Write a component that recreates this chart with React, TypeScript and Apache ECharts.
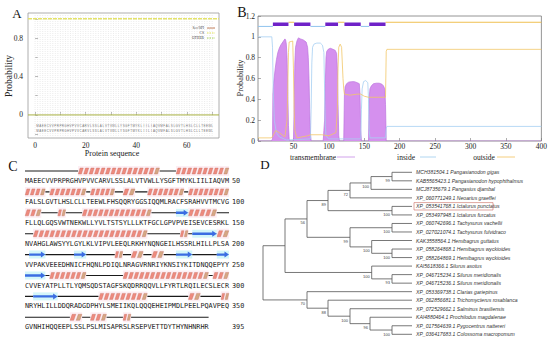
import { useEffect, useRef } from 'react';
import * as echarts from 'echarts';

const SERIF = '"Liberation Serif", "DejaVu Serif", serif';
const MONO = '"DejaVu Sans Mono", monospace';
const SANS = '"Liberation Sans", Arial, sans-serif';

// ---------------- Panel A (signal peptide) ----------------
const aXTicks = [0, 10, 20, 30, 40, 50, 60, 70];
const aXLabels = [0, 20, 40, 60];
const aYTicks = [-0.2, 0, 0.2, 0.4, 0.6, 0.8, 1.0];
const aYLabels = [0, 0.4, 0.8];
const aOther: [number, number][] = [[-2.8, 1.0], [72.7, 1.0]];
const aSecSpi: [number, number][] = [[-2.8, 0.0], [72.7, 0.0]];
const aRowLevels = [-0.114, -0.166];

// ---------------- Panel B (transmembrane topology) ----------------
const bTm: [number, number][] = [
  [0, 0], [19, 0], [20.5, 0.02], [21, 0.45], [22, 0.55], [24, 0.68], [26, 0.78], [28, 0.85], [30, 0.89], [32, 0.92],
  [34, 0.94], [36, 0.96], [38, 0.98], [39, 0.97], [40, 0.93], [41, 0.8], [42, 0.5], [43, 0.15], [44, 0.02], [45, 0],
  [50, 0], [51, 0.3], [52, 0.75], [53, 0.9], [55, 0.96], [57, 0.99], [60, 0.98], [64, 0.97], [68, 0.95], [70, 0.9],
  [71, 0.8], [72, 0.6], [73, 0.3], [74, 0.08], [75, 0],
  [92, 0], [93, 0.1], [94, 0.2], [95, 0.55], [96, 0.8], [97, 0.86], [99, 0.88], [102, 0.89], [106, 0.88], [109, 0.87],
  [111, 0.84], [112, 0.7], [113, 0.35], [114, 0.05], [115, 0],
  [121, 0], [122, 0.45], [123, 0.52], [125, 0.55], [128, 0.565], [132, 0.57], [136, 0.57], [140, 0.56], [143, 0.55],
  [144, 0.45], [145, 0.1], [146, 0],
  [156, 0], [157, 0.42], [158, 0.5], [160, 0.53], [163, 0.55], [167, 0.555], [171, 0.555], [175, 0.545], [177, 0.53],
  [179, 0.5], [180, 0.35], [181, 0], [400, 0],
];
const bInside: [number, number][] = [
  [0, 1], [19.5, 1], [20.5, 0.9], [21.5, 0.5], [23, 0.2], [26, 0.08], [30, 0.04], [40, 0.01], [74, 0.02], [75, 0.3],
  [76, 0.75], [77, 0.9], [79, 0.93], [83, 0.94], [88, 0.94], [91, 0.92], [93, 0.85], [94, 0.5], [95, 0.15], [96, 0.05],
  [100, 0.02], [145, 0.02], [146, 0.3], [147, 0.5], [149, 0.57], [152, 0.58], [155, 0.56], [156, 0.4], [157, 0.1],
  [158, 0.03], [180, 0.03], [181, 0.12], [182, 0.14], [400, 0.14],
];
const bOutside: [number, number][] = [
  [0, 0.03], [19, 0.03], [21, 0.05], [25, 0.1], [30, 0.08], [38, 0.04], [41, 0.2], [42, 0.5], [43, 0.85], [44, 0.95],
  [49, 0.96], [50, 0.7], [51, 0.3], [52, 0.1], [55, 0.03], [70, 0.05], [74, 0.06], [90, 0.06], [100, 0.05], [110, 0.08],
  [112, 0.3], [113, 0.7], [114, 0.9], [116, 0.93], [118, 0.9], [120, 0.6], [121, 0.5], [122, 0.45], [130, 0.44],
  [140, 0.45], [145, 0.45], [150, 0.43], [156, 0.42], [170, 0.42], [180, 0.42], [181, 0.86], [182, 0.88], [400, 0.88],
];
const bTmSegments: [number, number][] = [[21, 43], [51, 74], [95, 113], [122, 145], [157, 180]];
const bInsideSegments: [number, number][] = [[0, 21], [74, 95], [145, 157]];
const bOutsideSegments: [number, number][] = [[43, 51], [113, 122], [180, 400]];
const bTopLevels = { tm: 1.12, inside: 1.1, outside: 1.14 };

// ---------------- Panel C (sequence + secondary structure) ----------------
const seqLines = [
  'MAEECVVPRPRGHVPVVCARVLSSLALVTVWLLYSGFTMYKLIILIAQVM',
  'FALSLGVTLHSLCLLTEEWLFHSQQRYGGSIQQMLRACFSRAHVVTMCVG',
  'FLLQLGQSVWTNEKWLLYVLTSTSYLLLKTFGCLGPVPVEISEVCESRKL',
  'NVAHGLAWSYYLGYLKLVIPVLEEQLRKHYNQNGEILHSSRLHILLPLSA',
  'VVPAKVEEEDHNICFHQNLPDIQLNRAGVRNRIYKNSIYKITDNQQEPYY',
  'CVVEYATPLLTLYQMSQDSTAGFSKQDRRQQVLLFYRTLRQILECSLECR',
  'NRYHLILLDDQRADGDPHYLSMEIIKQLQQQEHEIPMDLPEELPQAVPEQ',
  'GVNHIHQQEEPLSSLPSLMISAPRSLRSEPVETTDYTHYNHNRHR',
];
const seqEndNumbers = ['50', '100', '150', '200', '250', '300', '350', '395'];
const helices: [number, number][] = [
  [14, 33], [38, 50], [51, 55], [57, 65], [67, 72], [75, 77], [81, 89], [91, 100], [101, 104], [109, 110],
  [115, 131], [141, 147], [153, 180], [189, 190], [198, 200], [223, 224], [227, 229], [232, 234], [257, 265],
  [275, 295], [297, 300], [319, 330], [341, 343], [349, 350], [362, 364], [367, 370], [375, 376],
];
const strands: [number, number][] = [[138, 140], [192, 197], [202, 205], [213, 215], [238, 241], [248, 255], [303, 308]];

// ---------------- Panel D (phylogenetic tree) ----------------
const leafNames = [
  'MCH381504.1 Pangasianodon gigas',
  'KAB5565423.1 Pangasianodon hypophthalmus',
  'MCJ8735679.1 Pangasius djambal',
  'XP_060771249.1 Neoarius graeffei',
  'XP_053541768.1 Ictalurus punctatus',
  'XP_053497948.1 Ictalurus furcatus',
  'XP_060742696.1 Tachysurus vachellii',
  'XP_027021074.1 Tachysurus fulvidraco',
  'KAK3558564.1 Hemibagrus guttatus',
  'XP_058264868.1 Hemibagrus wyckioides',
  'XP_058264869.1 Hemibagrus wyckioides',
  'KAI5618366.1 Silurus asotus',
  'XP_046715234.1 Silurus meridionalis',
  'XP_046715236.1 Silurus meridionalis',
  'XP_053369738.1 Clarias gariepinus',
  'XP_062856681.1 Trichomycterus rosablanca',
  'XP_072529662.1 Salminus brasiliensis',
  'KAI4880464.1 Prochilodus magdalenae',
  'XP_017564639.1 Pygocentrus nattereri',
  'XP_036417683.1 Colossoma macropomum',
];
const leafParent = ['A111', 'A111', 'A11', 'A1', 'A2', 'A2', 'B1', 'B1', 'B2', 'B21', 'B21', 'U2', 'U21', 'U21', 'L', 'L1', 'L11', 'L111', 'L1111', 'L1111'];
const highlightedLeaf = 4;
const nodeIds = ['root', 'U', 'U1', 'A', 'A1', 'A11', 'A111', 'A2', 'B', 'B1', 'B2', 'B21', 'U2', 'U21', 'L', 'L1', 'L11', 'L111', 'L1111'];
const nodeParent = [null, 'root', 'U', 'U1', 'A', 'A1', 'A11', 'A', 'U1', 'B', 'B', 'B2', 'U', 'U2', 'root', 'L', 'L1', 'L11', 'L111'];
const nodeDepth = [0, 22, 44, 65, 87, 108, 129, 129, 87, 129, 108.7, 129, 108.7, 129, 44, 65, 87, 107, 129];
const nodeSupport = [null, null, 56, 89, 72, 100, 99, 100, 99, 100, 100, 100, 100, 93, 70, 88, 100, 96, 100];
const leafDepth = 149;

function buildTree() {
  const y: Record<string, number> = {};
  const depth: Record<string, number> = {};
  nodeIds.forEach((id, i) => (depth[id] = nodeDepth[i]));
  const spans: Record<string, [number, number]> = {};
  const walk = (id: string) => {
    const childY: number[] = [];
    leafParent.forEach((p, i) => p === id && childY.push(i));
    nodeIds.forEach((n, i) => {
      if (nodeParent[i] === id) {
        walk(n);
        childY.push(y[n]);
      }
    });
    const lo = Math.min(...childY);
    const hi = Math.max(...childY);
    y[id] = (lo + hi) / 2;
    spans[id] = [lo, hi];
  };
  walk('root');
  const segs: number[][] = [];
  nodeIds.forEach((id, i) => {
    const [lo, hi] = spans[id];
    segs.push([depth[id], lo, depth[id], hi]);
    const p = nodeParent[i];
    if (p) segs.push([depth[p], y[id], depth[id], y[id]]);
  });
  leafParent.forEach((p, i) => segs.push([depth[p], i, leafDepth, i]));
  const supports: { x: number; y: number; v: number }[] = [];
  nodeIds.forEach((id, i) => {
    const v = nodeSupport[i];
    if (v != null) supports.push({ x: depth[id], y: y[id], v });
  });
  return { segs, supports };
}

function breakSegments(segs: [number, number][], level: number) {
  const out: any[] = [];
  segs.forEach(([s, e]) => {
    out.push([s, level], [e, level], [e, '-']);
  });
  return out;
}

function buildOption() {
  const tree = buildTree();
  const aSeq = seqLines.join('').slice(0, 70);
  const aLetters: number[][] = [];
  aRowLevels.forEach((lv) => {
    for (let i = 0; i < aSeq.length; i++) aLetters.push([i + 1, lv]);
  });
  const aGridPositions = aSeq.split('').map((_, i) => i);
  aGridPositions.push(aSeq.length);

  const cLetters: { x: number; row: number; ch: string }[] = [];
  seqLines.forEach((line, r) => line.split('').forEach((ch, i) => cLetters.push({ x: i + 1, row: r, ch })));

  const cElements: { row: number; s: number; e: number; t: string }[] = [];
  const addEl = (list: [number, number][], t: string) =>
    list.forEach(([s, e]) => {
      let cur = s;
      while (cur <= e) {
        const row = Math.floor((cur - 1) / 50);
        const rowEnd = Math.min(e, (row + 1) * 50);
        cElements.push({ row, s: cur - row * 50, e: rowEnd - row * 50, t });
        cur = rowEnd + 1;
      }
    });
  addEl(helices, 'H');
  addEl(strands, 'E');

  const axisLabelStyle = { fontFamily: SERIF, fontSize: 7.5, color: '#222' };

  return {
    animation: false,
    backgroundColor: '#fff',
    grid: [
      { left: 28, top: 13, width: 191, height: 125, show: true, borderColor: '#9a9a9a', borderWidth: 0.8 },
      { left: 258, top: 16, width: 284, height: 125, show: true, borderColor: '#7a7a7a', borderWidth: 0.8 },
      { left: 25, top: 181, width: 204, height: 146.3 },
      { left: 263, top: 172.3, width: 149, height: 162 },
    ],
    xAxis: [
      {
        gridIndex: 0, type: 'value', min: -2.8, max: 72.7,
        axisLine: { show: false },
        axisTick: { show: true, inside: true, length: 3, customValues: aXTicks, lineStyle: { color: '#888', width: 0.6 } },
        axisLabel: { customValues: aXLabels, margin: 3, ...axisLabelStyle },
        splitLine: { show: false },
      },
      {
        gridIndex: 1, type: 'value', min: 0, max: 400, interval: 50,
        axisLine: { show: false },
        axisTick: { show: true, inside: true, length: 3, lineStyle: { color: '#777', width: 0.6 } },
        axisLabel: { margin: 1.5, formatter: (v: number) => (v === 0 ? '' : String(v)), ...axisLabelStyle },
        splitLine: { show: false },
      },
      { gridIndex: 2, type: 'value', min: 0.5, max: 50.5, show: false },
      { gridIndex: 3, type: 'value', min: 0, max: leafDepth, show: false },
    ],
    yAxis: [
      {
        gridIndex: 0, type: 'value', min: -0.24, max: 1.06,
        axisLine: { show: false },
        axisTick: { show: true, inside: true, length: 3, customValues: aYTicks, lineStyle: { color: '#888', width: 0.6 } },
        axisLabel: { customValues: aYLabels, margin: 5, formatter: (v: number) => String(Math.round(v * 10) / 10), ...axisLabelStyle },
        splitLine: { show: false },
      },
      {
        gridIndex: 1, type: 'value', min: 0, max: 1.2, interval: 0.2,
        axisLine: { show: false },
        axisTick: { show: true, inside: true, length: 3, lineStyle: { color: '#777', width: 0.6 } },
        axisLabel: { margin: 3, formatter: (v: number) => String(Math.round(v * 10) / 10), ...axisLabelStyle },
        splitLine: { show: false },
      },
      { gridIndex: 2, type: 'value', min: 0, max: 7, inverse: true, show: false },
      { gridIndex: 3, type: 'value', min: 0, max: 19, inverse: true, show: false },
    ],
    series: [
      // ---- A ----
      {
        type: 'custom', xAxisIndex: 0, yAxisIndex: 0, silent: true,
        data: aGridPositions.map((p) => [p]),
        renderItem: (params: any, api: any) => {
          const x = api.value(0);
          const p1 = api.coord([x, 1.06]);
          const p2 = api.coord([x, -0.24]);
          return { type: 'line', shape: { x1: p1[0], y1: p1[1], x2: p2[0], y2: p2[1] }, style: { stroke: '#d9d9d9', lineWidth: 0.5, lineDash: [1, 1] } };
        },
      },
      {
        name: 'OTHER', type: 'line', xAxisIndex: 0, yAxisIndex: 0, data: aOther, symbol: 'none',
        lineStyle: { color: '#e4e36a', width: 1.4, type: [4, 1] },
      },
      {
        name: 'Sec/SPI', type: 'line', xAxisIndex: 0, yAxisIndex: 0, data: aSecSpi, symbol: 'none',
        lineStyle: { color: '#a9b142', width: 1 },
      },
      {
        type: 'custom', xAxisIndex: 0, yAxisIndex: 0, silent: true,
        data: aLetters,
        renderItem: (params: any, api: any) => {
          const p = api.coord([api.value(0), api.value(1)]);
          const ch = aSeq[params.dataIndex % aSeq.length];
          return { type: 'text', x: p[0], y: p[1], style: { text: ch, fontSize: 3, fontFamily: SANS, fill: '#777', align: 'center', verticalAlign: 'middle' } };
        },
      },
      // ---- B ----
      {
        name: 'transmembrane', type: 'line', xAxisIndex: 1, yAxisIndex: 1, data: bTm, symbol: 'none',
        lineStyle: { color: '#bb74de', width: 0.7 }, areaStyle: { color: '#d590ee', opacity: 1 },
      },
      {
        name: 'inside', type: 'line', xAxisIndex: 1, yAxisIndex: 1, data: bInside, symbol: 'none',
        lineStyle: { color: '#a6cff2', width: 0.8 },
      },
      {
        name: 'outside', type: 'line', xAxisIndex: 1, yAxisIndex: 1, data: bOutside, symbol: 'none',
        lineStyle: { color: '#f1c667', width: 0.8 },
      },
      {
        type: 'line', xAxisIndex: 1, yAxisIndex: 1, data: breakSegments(bInsideSegments, bTopLevels.inside), symbol: 'none',
        lineStyle: { color: '#8fc3ee', width: 1 },
      },
      {
        type: 'line', xAxisIndex: 1, yAxisIndex: 1, data: breakSegments(bOutsideSegments, bTopLevels.outside), symbol: 'none',
        lineStyle: { color: '#f0c050', width: 1 },
      },
      {
        type: 'line', xAxisIndex: 1, yAxisIndex: 1, data: breakSegments(bTmSegments, bTopLevels.tm), symbol: 'none',
        lineStyle: { color: '#6f22c8', width: 3.5, cap: 'butt' },
      },
      // ---- C ----
      {
        type: 'custom', xAxisIndex: 2, yAxisIndex: 2, silent: true,
        data: seqLines.map((l, r) => [l.length, r]),
        renderItem: (params: any, api: any) => {
          const p1 = api.coord([0.5, api.value(1)]);
          const p2 = api.coord([api.value(0) + 0.5, api.value(1)]);
          return { type: 'line', shape: { x1: p1[0], y1: p1[1] - 10, x2: p2[0], y2: p2[1] - 10 }, style: { stroke: '#1a1a1a', lineWidth: 1.1 } };
        },
      },
      {
        type: 'custom', xAxisIndex: 2, yAxisIndex: 2, silent: true,
        data: cElements.map((e) => [e.s, e.row]),
        renderItem: (params: any, api: any) => {
          const el = cElements[params.dataIndex];
          const p1 = api.coord([el.s - 0.5, el.row]);
          const p2 = api.coord([el.e + 0.5, el.row]);
          const y = p1[1] - 10;
          const x1 = p1[0];
          const x2 = p2[0];
          const children: any[] = [];
          if (el.t === 'H') {
            children.push({ type: 'rect', shape: { x: x1, y: y - 5, width: x2 - x1, height: 10 }, style: { fill: '#fdeef3' } });
            const n = Math.max(1, Math.round((x2 - x1) / 5.4));
            const w = (x2 - x1) / n;
            for (let k = 0; k < n; k++) {
              const gx = x1 + k * w;
              children.push({
                type: 'polygon',
                shape: { points: [[gx + 0.2, y + 3], [gx + w * 0.62, y + 3], [gx + w - 0.2, y - 3], [gx + w * 0.38, y - 3]] },
                style: { fill: k === n - 1 ? '#d4a884' : '#ee8a7e', stroke: '#c0685a', lineWidth: 0.35 },
              });
            }
          } else {
            children.push({ type: 'rect', shape: { x: x1, y: y - 4, width: x2 - x1, height: 8 }, style: { fill: '#d4f6f9' } });
            const head = Math.min(4.5, (x2 - x1) * 0.5);
            children.push({
              type: 'polygon',
              shape: { points: [[x1, y - 1.2], [x2 - head, y - 1.2], [x2 - head, y - 3], [x2, y], [x2 - head, y + 3], [x2 - head, y + 1.2], [x1, y + 1.2]] },
              style: { fill: '#3b6de2' },
            });
          }
          return { type: 'group', children };
        },
      },
      {
        type: 'custom', xAxisIndex: 2, yAxisIndex: 2, silent: true,
        data: cLetters.map((c) => [c.x, c.row]),
        renderItem: (params: any, api: any) => {
          const c = cLetters[params.dataIndex];
          const p = api.coord([c.x, c.row]);
          return { type: 'text', x: p[0], y: p[1], style: { text: c.ch, fontSize: 6.8, fontFamily: MONO, fill: '#222', align: 'center', verticalAlign: 'middle' } };
        },
      },
      {
        type: 'custom', xAxisIndex: 2, yAxisIndex: 2, silent: true,
        data: seqEndNumbers.map((_, r) => [50.5, r]),
        renderItem: (params: any, api: any) => {
          const p = api.coord([api.value(0), api.value(1)]);
          return { type: 'text', x: p[0] + 3, y: p[1], style: { text: seqEndNumbers[params.dataIndex], fontSize: 6.8, fontFamily: MONO, fill: '#222', align: 'left', verticalAlign: 'middle' } };
        },
      },
      // ---- D ----
      {
        type: 'custom', xAxisIndex: 3, yAxisIndex: 3, silent: true,
        data: tree.segs,
        encode: { x: [0, 2], y: [1, 3] },
        renderItem: (params: any, api: any) => {
          const p1 = api.coord([api.value(0), api.value(1)]);
          const p2 = api.coord([api.value(2), api.value(3)]);
          return { type: 'line', shape: { x1: p1[0], y1: p1[1], x2: p2[0], y2: p2[1] }, style: { stroke: '#555', lineWidth: 0.8 } };
        },
      },
      {
        type: 'custom', xAxisIndex: 3, yAxisIndex: 3, silent: true,
        data: leafNames.map((_, i) => [leafDepth, i]),
        renderItem: (params: any, api: any) => {
          const i = params.dataIndex;
          const p = api.coord([api.value(0), api.value(1)]);
          const children: any[] = [
            { type: 'text', x: p[0] + 4, y: p[1], style: { text: leafNames[i], fontSize: 5.1, fontStyle: 'italic', fontFamily: SANS, fill: '#333', align: 'left', verticalAlign: 'middle' } },
          ];
          if (i === highlightedLeaf) {
            children.push({ type: 'rect', shape: { x: p[0] + 2, y: p[1] - 3.8, width: 79, height: 7.4 }, style: { fill: 'none', stroke: '#c96a5e', lineWidth: 0.6 } });
          }
          return { type: 'group', children };
        },
      },
      {
        type: 'custom', xAxisIndex: 3, yAxisIndex: 3, silent: true,
        data: tree.supports.map((s) => [s.x, s.y]),
        renderItem: (params: any, api: any) => {
          const p = api.coord([api.value(0), api.value(1)]);
          return { type: 'text', x: p[0] - 2, y: p[1] + 4, style: { text: String(tree.supports[params.dataIndex].v), fontSize: 4, fontFamily: SANS, fill: '#444', align: 'right', verticalAlign: 'middle' } };
        },
      },
    ],
    graphic: [
      { type: 'text', x: 17, y: 13, style: { text: 'A', fontSize: 13, fontFamily: SERIF, fill: '#111', align: 'center', verticalAlign: 'middle' } },
      { type: 'text', x: 242, y: 12, style: { text: 'B', fontSize: 14, fontFamily: SERIF, fill: '#111', align: 'center', verticalAlign: 'middle' } },
      { type: 'text', x: 13, y: 166, style: { text: 'C', fontSize: 14, fontFamily: SERIF, fill: '#111', align: 'center', verticalAlign: 'middle' } },
      { type: 'text', x: 265, y: 164, style: { text: 'D', fontSize: 13, fontFamily: SERIF, fill: '#111', align: 'center', verticalAlign: 'middle' } },
      { type: 'text', x: 9, y: 76, rotation: Math.PI / 2, style: { text: 'Probability', fontSize: 9.5, fontFamily: SERIF, fill: '#222', align: 'center', verticalAlign: 'middle' } },
      { type: 'text', x: 112, y: 153, style: { text: 'Protein sequence', fontSize: 8, fontFamily: SERIF, fill: '#222', align: 'center', verticalAlign: 'middle' } },
      { type: 'text', x: 240, y: 78, rotation: Math.PI / 2, style: { text: 'Probability', fontSize: 8.3, fontFamily: SERIF, fill: '#222', align: 'center', verticalAlign: 'middle' } },
      // legend A
      { type: 'text', x: 204, y: 28, style: { text: 'Sec/SPI', fontSize: 3.6, fontFamily: SERIF, fill: '#333', align: 'right', verticalAlign: 'middle' } },
      { type: 'line', shape: { x1: 207, y1: 28, x2: 215, y2: 28 }, style: { stroke: '#c07a55', lineWidth: 1 } },
      { type: 'text', x: 204, y: 33, style: { text: 'CS', fontSize: 3.6, fontFamily: SERIF, fill: '#333', align: 'right', verticalAlign: 'middle' } },
      { type: 'line', shape: { x1: 207, y1: 33, x2: 215, y2: 33 }, style: { stroke: '#e2e24a', lineWidth: 1, lineDash: [1.5, 1] } },
      { type: 'text', x: 204, y: 38, style: { text: 'OTHER', fontSize: 3.6, fontFamily: SERIF, fill: '#333', align: 'right', verticalAlign: 'middle' } },
      { type: 'line', shape: { x1: 207, y1: 38, x2: 215, y2: 38 }, style: { stroke: '#9ccc45', lineWidth: 1, lineDash: [1.5, 1] } },
      // legend B
      { type: 'text', x: 313, y: 157, style: { text: 'transmembrane', fontSize: 7.5, fontFamily: SERIF, fill: '#222', align: 'center', verticalAlign: 'middle' } },
      { type: 'line', shape: { x1: 337, y1: 157, x2: 355, y2: 157 }, style: { stroke: '#c58ae6', lineWidth: 0.8 } },
      { type: 'text', x: 406, y: 157, style: { text: 'inside', fontSize: 7.5, fontFamily: SERIF, fill: '#222', align: 'center', verticalAlign: 'middle' } },
      { type: 'line', shape: { x1: 420, y1: 157, x2: 436, y2: 157 }, style: { stroke: '#9ccbee', lineWidth: 0.8 } },
      { type: 'text', x: 484, y: 157, style: { text: 'outside', fontSize: 7.5, fontFamily: SERIF, fill: '#222', align: 'center', verticalAlign: 'middle' } },
      { type: 'line', shape: { x1: 497, y1: 157, x2: 515, y2: 157 }, style: { stroke: '#f3c25d', lineWidth: 0.8 } },
    ],
  };
}

export default function App() {
  const ref = useRef<HTMLDivElement>(null);
  useEffect(() => {
    document.body.style.margin = '0';
    const chart = echarts.init(ref.current!, null, { renderer: 'svg' });
    chart.setOption(buildOption() as any);
    return () => chart.dispose();
  }, []);
  return <div ref={ref} style={{ width: 550, height: 342, position: 'absolute', left: 0, top: 0, background: '#fff' }} />;
}
